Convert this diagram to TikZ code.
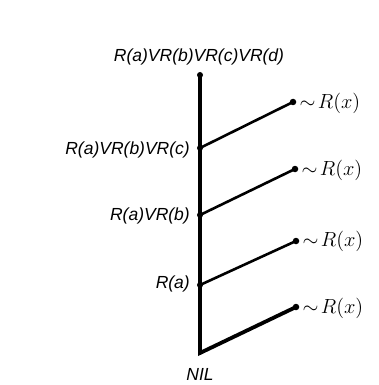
\documentclass[tikz,border=0pt]{standalone}
\usepackage{fontspec}
\setsansfont{Liberation Sans}
\begin{document}
\begin{tikzpicture}[x=1pt,y=-1pt,
  lbl/.style={font=\fontsize{17.5}{20}\selectfont\sffamily\itshape, inner sep=1pt},
  neg/.style={font=\fontsize{14.4}{17}\selectfont, scale=1.42, inner sep=1pt, anchor=west},
  pt/.style={circle, fill=black, inner sep=0pt, minimum size=6.5pt},
  jn/.style={circle, fill=black, inner sep=0pt, minimum size=6pt},
  trunk/.style={line width=3.8pt},
  branch/.style={line width=2.6pt}]
\useasboundingbox (0,0) rectangle (379,385);
% trunk points
\node[jn] (t0) at (200,75) {};
\node[jn] (t1) at (200,148) {};
\node[jn] (t2) at (200,215) {};
\node[jn] (t3) at (200,285) {};
\coordinate (t4) at (200,353);
% right end points
\node[pt] (r1) at (293,102) {};
\node[pt] (r2) at (295,169) {};
\node[pt] (r3) at (296,241) {};
\node[pt] (r4) at (296,307) {};
% trunk
\draw[trunk, line join=miter] (t0.center) -- (t1.center) -- (t2.center) -- (t3.center) -- (t4) -- (r4.center);
% branches
\draw[branch] (t1.center) -- (r1.center);
\draw[branch] (t2.center) -- (r2.center);
\draw[branch] (t3.center) -- (r3.center);
% labels
\node[lbl] (l0) at (199,57) {R(a)VR(b)VR(c)VR(d)};
\node[lbl, anchor=east] (l1) at (191,150) {R(a)VR(b)VR(c)};
\node[lbl, anchor=east] (l2) at (191,216) {R(a)VR(b)};
\node[lbl, anchor=east] (l3) at (191,284) {R(a)};
\node[lbl] (l4) at (200,374) {NIL};
\node[neg] (n1) at (298,103) {$\sim\! R(x)$};
\node[neg] (n2) at (300,170) {$\sim\! R(x)$};
\node[neg] (n3) at (301,241) {$\sim\! R(x)$};
\node[neg] (n4) at (301,308) {$\sim\! R(x)$};
\end{tikzpicture}
\end{document}
